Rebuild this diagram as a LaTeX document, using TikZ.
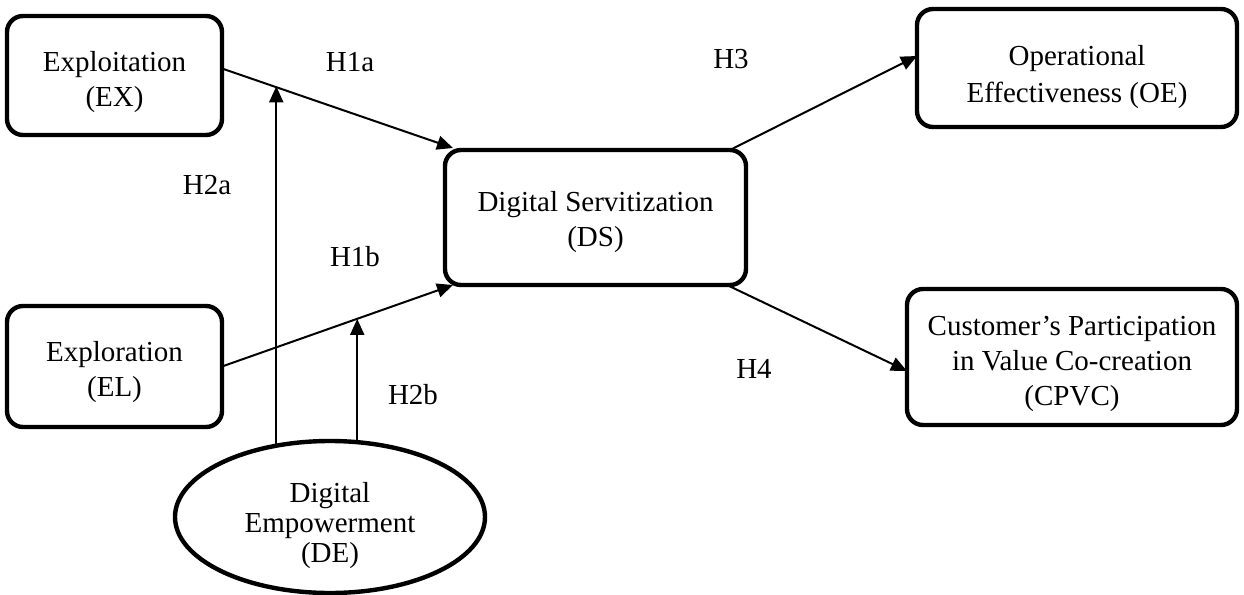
\documentclass[tikz,border=0pt]{standalone}
\usepackage{fontspec}
\setmainfont{Liberation Serif}
\usetikzlibrary{arrows.meta,shapes.geometric}
\begin{document}
\begin{tikzpicture}[x=0.5pt,y=-0.5pt,
  box/.style={draw,line width=2.2pt,rounded corners=8pt,inner sep=0pt,outer sep=0pt},
  oval/.style={draw,ellipse,line width=2.2pt,inner sep=0pt,outer sep=0pt,
    minimum width=155pt,minimum height=76pt},
  txt/.style={align=center,font=\fontsize{14.5pt}{17.5pt}\selectfont,inner sep=0pt},
  otxt/.style={align=center,font=\fontsize{14.5pt}{15pt}\selectfont,inner sep=0pt},
  arr/.style={line width=1pt,-{Triangle[length=8pt,width=7pt]}},
  lbl/.style={font=\fontsize{14.5pt}{17.5pt}\selectfont,inner sep=0pt}]
\useasboundingbox (0,0) rectangle (1244,595);
\node[box,minimum width=107.5pt,minimum height=59.5pt] (EX) at (114.5,75.5) {};
\node[txt] (EXt) at (114.5,82) {Exploitation\\(EX)};
\node[box,minimum width=107.5pt,minimum height=60.5pt] (EL) at (114.5,366.5) {};
\node[txt] (ELt) at (114.5,372) {Exploration\\(EL)};
\node[box,minimum width=150.5pt,minimum height=67.5pt] (DS) at (595.5,217.5) {};
\node[txt] (DSt) at (595.5,222) {Digital Servitization\\(DS)};
\node[box,minimum width=160pt,minimum height=59pt] (OE) at (1077,68) {};
\node[txt,font=\fontsize{14.5pt}{18.5pt}\selectfont] (OEt) at (1077,77) {Operational\\Effectiveness (OE)};
\node[box,minimum width=165pt,minimum height=68pt] (CPVC) at (1072,357) {};
\node[txt] (CPVCt) at (1072,364) {Customer’s Participation\\in Value Co-creation\\(CPVC)};
\node[oval] (DE) at (330,517) {};
\node[otxt] (DEt) at (330,526) {Digital\\Empowerment\\(DE)};
\draw[arr] ([yshift=3.5pt]EX.east) -- ([xshift=4pt,yshift=1pt]DS.north west) coordinate[pos=0.224] (m1);
\draw[arr] (EL.east) -- ([xshift=4pt]DS.south west) coordinate[pos=0.584] (m2);
\draw[arr] (DE.127.3) -- (DE.127.3 |- m1);
\draw[arr] (DE.70.2) -- (DE.70.2 |- m2);
\draw[arr] ([xshift=-8pt]DS.north east) -- ([yshift=6pt]OE.west);
\draw[arr] ([xshift=-9.5pt]DS.south east) -- ([yshift=-7pt]CPVC.west);
\node[lbl] (h1a) at (350,62) {H1a};
\node[lbl] (h2a) at (207,185) {H2a};
\node[lbl] (h1b) at (355,257) {H1b};
\node[lbl] (h2b) at (413,395) {H2b};
\node[lbl] (h3) at (731,59) {H3};
\node[lbl] (h4) at (754,369) {H4};
\end{tikzpicture}
\end{document}
